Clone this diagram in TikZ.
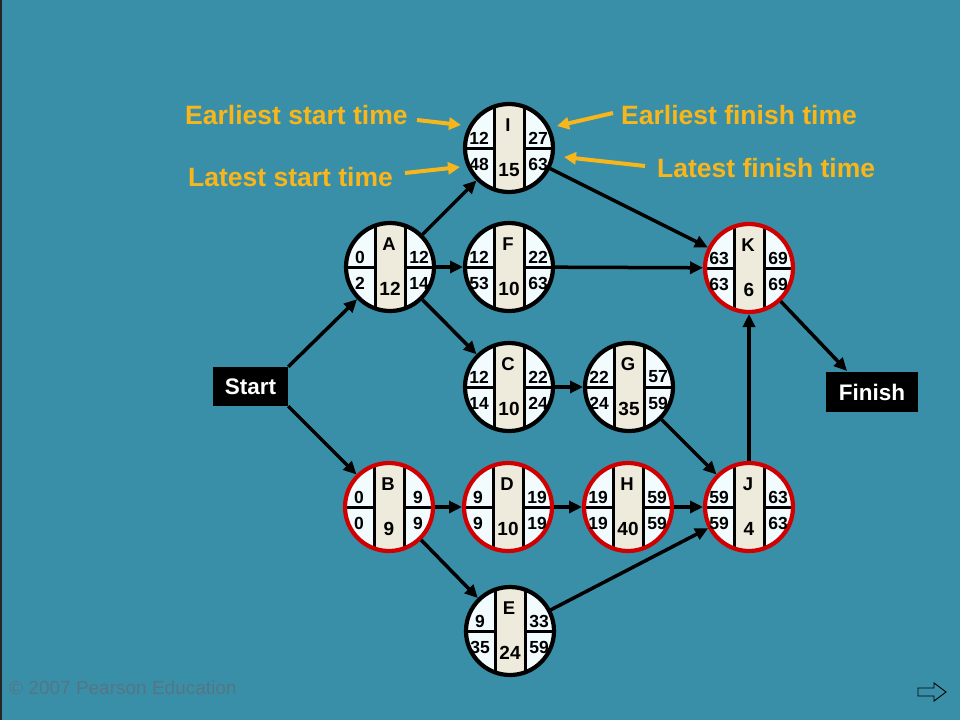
\documentclass[tikz,border=0pt]{standalone}
\usepackage{fontspec}
\setmainfont{Liberation Sans}
\usetikzlibrary{arrows.meta,calc}
\definecolor{bg}{RGB}{58,143,168}
\definecolor{sidefill}{RGB}{242,251,253}
\definecolor{stripfill}{RGB}{238,235,220}
\definecolor{critred}{RGB}{208,0,0}
\definecolor{ylw}{RGB}{248,182,26}
\definecolor{copyc}{RGB}{84,118,132}
\tikzset{
  actshape/.style={circle, minimum size=92pt, inner sep=0pt, outer sep=0pt},
  divline/.style={line width=3pt, black},
  numtxt/.style={inner sep=0pt, font=\fontsize{17.5}{19}\selectfont\bfseries},
  lettxt/.style={inner sep=0pt, font=\fontsize{18.5}{20}\selectfont\bfseries},
  durtxt/.style={inner sep=0pt, font=\fontsize{19}{21}\selectfont\bfseries},
  edge/.style={line width=3.5pt, black, -{Triangle[length=13pt,width=12pt]}},
  yarrow/.style={line width=4pt, ylw, -{Triangle[length=12pt,width=12pt]}},
  ylab/.style={inner sep=0pt, anchor=west, text=ylw, font=\fontsize{26.5}{29}\selectfont\bfseries},
  termbox/.style={fill=black, text=white, inner sep=0pt, font=\fontsize{22.5}{25}\selectfont\bfseries}
}
% #1 name, #2 position, #3 ring colour, #4 letter, #5 duration, #6 ES, #7 EF, #8 LS, #9 LF
\newcommand\actnode[9]{%
  \node[actshape] (#1) at #2 {};
  \begin{scope}[shift={#2}]
    \begin{scope}
      \clip (0,0) circle (44);
      \fill[sidefill] (-50,-50) rectangle (50,50);
      \fill[stripfill] (-15,-50) rectangle (15,50);
      \draw[divline] (-15,-50) -- (-15,50);
      \draw[divline] (15,-50) -- (15,50);
      \draw[divline] (-50,0) -- (-15,0);
      \draw[divline] (15,0) -- (50,0);
    \end{scope}
    \draw[line width=4.2pt, #3] (0,0) circle (44);
    \node[lettxt] (#1-let) at (-1,-23) {#4};
    \node[durtxt] (#1-dur) at (0,22) {#5};
    \node[numtxt] (#1-es) at (-30,-10) {#6};
    \node[numtxt] (#1-ef) at (29,-10) {#7};
    \node[numtxt] (#1-ls) at (-30,16) {#8};
    \node[numtxt] (#1-lf) at (29,16) {#9};
  \end{scope}
}
\begin{document}
\begin{tikzpicture}[x=1pt,y=-1pt]
\useasboundingbox (0,0) rectangle (960,720);
\fill[bg] (0,0) rectangle (960,720);
\draw[line width=2pt, black!85] (1,0) -- (1,720);

% activity nodes
\actnode{I}{(509,148)}{black}{I}{15}{12}{27}{48}{63}
\actnode{A}{(390,267)}{black}{A}{12}{0}{12}{2}{14}
\actnode{F}{(509,267)}{black}{F}{10}{12}{22}{53}{63}
\actnode{K}{(749,268)}{critred}{K}{6}{63}{69}{63}{69}
\actnode{C}{(509,387)}{black}{C}{10}{12}{22}{14}{24}
\actnode{G}{(629,387)}{black}{G}{35}{22}{57}{24}{59}
\actnode{B}{(389,507)}{critred}{B}{9}{0}{9}{0}{9}
\actnode{D}{(508,507)}{critred}{D}{10}{9}{19}{9}{19}
\actnode{H}{(628,507)}{critred}{H}{40}{19}{59}{19}{59}
\actnode{J}{(749,507)}{critred}{J}{4}{59}{63}{59}{63}
\actnode{E}{(510,631)}{black}{E}{24}{9}{33}{35}{59}

% start / finish
\node[termbox, minimum width=75pt, minimum height=39pt] (start) at (250.5,386.5) {Start};
\node[termbox, minimum width=92pt, minimum height=40pt] (finish) at (872,392) {Finish};
\coordinate (finarr) at (847,371);

% connectors
\draw[edge] (start.north east) -- (A);
\draw[edge] (start.south east) -- (B);
\draw[edge] (A) -- (I);
\draw[edge] (A) -- (F);
\draw[edge] (A) -- (C);
\draw[edge] (I) -- (K);
\draw[edge] (F) -- (K);
\draw[edge] (C) -- (G);
\draw[edge] (G) -- (J);
\draw[edge] (B) -- (D);
\draw[edge] (B) -- (E);
\draw[edge] (D) -- (H);
\draw[edge] (H) -- (J);
\draw[edge] (E) -- (J);
\draw[edge] (J) -- (K);
\draw[edge] (K) -- (finarr);

% explanatory labels
\node[ylab] (est) at (185,115) {Earliest start time};
\node[ylab] (lst) at (188,177) {Latest start time};
\node[ylab] (eft) at (621,115) {Earliest finish time};
\node[ylab] (lft) at (657,168) {Latest finish time};
\coordinate (ya1s) at (417,120);
\coordinate (ya1e) at (461,125);
\coordinate (ya2s) at (405,173);
\coordinate (ya2e) at (460,167);
\coordinate (ya3s) at (613,113);
\coordinate (ya3e) at (557,126);
\coordinate (ya4s) at (645,166);
\coordinate (ya4e) at (564,157);
\draw[yarrow] (ya1s) -- (ya1e);
\draw[yarrow] (ya2s) -- (ya2e);
\draw[yarrow] (ya3s) -- (ya3e);
\draw[yarrow] (ya4s) -- (ya4e);

% footer
\node[inner sep=0pt, anchor=west, text=copyc, font=\fontsize{19}{21}\selectfont] (copy) at (9,688) {© 2007 Pearson Education};
\draw[line width=0.9pt, black] (918,688) -- (934,688) -- (934,683) -- (946,692) -- (934,701) -- (934,696) -- (918,696) -- cycle;
\end{tikzpicture}
\end{document}
